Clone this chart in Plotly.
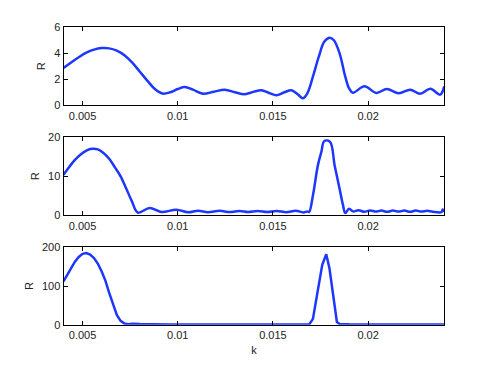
import plotly.graph_objects as go
from plotly.subplots import make_subplots

# ── Data ─────────────────────────────────────────────────────────────────────

K1 = [0.0040, 0.0044, 0.0048, 0.0052, 0.0056, 0.0060, 0.0064, 0.0068, 0.0072,
      0.0076, 0.0080, 0.0084, 0.0088, 0.0092, 0.0096, 0.0100, 0.01037, 0.0108,
      0.01133, 0.0119, 0.01247, 0.0130, 0.01352, 0.0140, 0.01439, 0.0148,
      0.01518, 0.0156, 0.01597, 0.0163, 0.01657, 0.0168, 0.0171, 0.0174, 0.0177,
      0.01798, 0.0182, 0.0185, 0.0188, 0.0190, 0.0192, 0.01981, 0.02043, 0.02098,
      0.02161, 0.02221, 0.02273, 0.02327, 0.02378, 0.0240]
R1 = [2.87, 3.3, 3.7, 4.05, 4.28, 4.4, 4.38, 4.2, 3.85,
      3.3, 2.6, 1.9, 1.25, 0.9, 1.0, 1.25, 1.41, 1.2,
      0.89, 1.05, 1.2, 1.0, 0.85, 1.05, 1.15, 0.95,
      0.77, 1.0, 1.15, 0.85, 0.54, 0.9, 2.2, 3.7, 4.9,
      5.2, 5.0, 4.0, 2.2, 1.3, 0.97, 1.46, 0.95, 1.25,
      0.92, 1.2, 0.89, 1.28, 0.82, 1.46]

K2 = [0.0040, 0.0043, 0.0046, 0.0049, 0.0052, 0.0055, 0.0058, 0.0061, 0.0064,
      0.0067, 0.0070, 0.0073, 0.0076, 0.0079, 0.00853, 0.00914, 0.00993,
      0.01054, 0.01107, 0.01159, 0.0122, 0.01273, 0.01325, 0.01369, 0.0142,
      0.0147, 0.0152, 0.0157, 0.0162, 0.0166, 0.0168, 0.0169, 0.0171, 0.01736,
      0.01754, 0.0177, 0.0180, 0.01824, 0.0185, 0.01868, 0.0188, 0.0190, 0.0192,
      0.0195, 0.0198, 0.0201, 0.0204, 0.0207, 0.0210, 0.0213, 0.0216, 0.0219,
      0.0222, 0.0225, 0.0228, 0.0231, 0.0234, 0.02385, 0.02392, 0.0240]
R2 = [10.4, 12.4, 14.2, 15.6, 16.6, 17.05, 16.9, 16.0, 14.5,
      12.3, 10.0, 6.8, 3.5, 0.7, 1.87, 0.85, 1.43,
      0.77, 1.18, 0.8, 1.15, 0.82, 1.1, 0.85, 1.1,
      0.85, 1.1, 0.8, 1.15, 0.75, 1.0, 0.85, 5.1, 12.8,
      16.2, 19.05, 18.8, 12.8, 6.8, 2.6, 0.6, 1.7, 1.0,
      1.3, 0.9, 1.25, 0.95, 1.2, 0.9, 1.2, 0.95, 1.2,
      0.9, 1.2, 0.95, 1.15, 0.9, 0.8, 1.5, 0.9]

K3 = [0.0040, 0.0042, 0.0044, 0.0046, 0.0048, 0.0050, 0.0052, 0.0054, 0.0056,
      0.0058, 0.0060, 0.0062, 0.0064, 0.0066, 0.0068, 0.0070, 0.0072, 0.0074,
      0.0076, 0.0080, 0.0085, 0.0095, 0.0110, 0.0130, 0.0150, 0.0165, 0.0169,
      0.0171, 0.01759, 0.0178, 0.01797, 0.01836, 0.0185, 0.0190, 0.0200, 0.0220,
      0.0240]
R3 = [112, 130, 148, 163, 175, 183, 185, 181, 172,
      158, 138, 114, 82, 52, 25, 10, 3, 1.5,
      2.5, 1.5, 1.0, 0.8, 0.6, 0.5, 0.5, 0.6, 0.3,
      15, 155, 182, 145, 7, 2, 1.2, 0.8, 0.7,
      0.8]

X_TICKS = [0.005, 0.01, 0.015, 0.02]
X_TICKTEXT = ["0.005", "0.01", "0.015", "0.02"]
Y_TICKS = [[0, 2, 4, 6], [0, 10, 20], [0, 100, 200]]
Y_RANGES = [[0, 6], [0, 20], [0, 200]]

# ── Layout constants ──────────────────────────────────────────────────────────
# page body has an 8px margin, so the figure is 16px smaller than the window
# and screen pixel positions are shifted by OFF

WIN_W, WIN_H, OFF = 491, 366, 8
W, H = WIN_W - 2 * OFF, WIN_H - 2 * OFF


def px_x(x):
    return (x - OFF) / W


def px_y(y):
    return 1 - (y - OFF) / H


X_DOMAIN = [px_x(63.5), px_x(444.3)]
Y_DOMAINS = [
    [px_y(105.3), px_y(27.3)],
    [px_y(215.3), px_y(137.3)],
    [px_y(324.7), px_y(247.3)],
]
LINE_COLOR = "rgb(30,55,255)"
FONT = dict(family="Liberation Sans, Arial, sans-serif", size=11, color="#222")

fig = make_subplots(rows=3, cols=1)

series = [(K1, R1, "spline"), (K2, R2, "spline"), (K3, R3, "linear")]
for i, (k, r, shape) in enumerate(series, start=1):
    fig.add_trace(go.Scatter(
        x=k, y=r, mode="lines", showlegend=False,
        line=dict(color=LINE_COLOR, width=2.5, shape=shape, smoothing=1.0),
    ), row=i, col=1)

axis_common = dict(
    showline=True, linecolor="black", linewidth=1, mirror="ticks",
    ticks="inside", ticklen=4, tickcolor="black", showgrid=False,
    zeroline=False, tickfont=FONT, automargin=False,
)

for i in range(3):
    fig.update_xaxes(
        **axis_common, range=[0.004, 0.024], domain=X_DOMAIN,
        tickvals=X_TICKS, ticktext=X_TICKTEXT,
        row=i + 1, col=1,
    )
    fig.update_yaxes(
        **axis_common, range=Y_RANGES[i], domain=Y_DOMAINS[i],
        tickvals=Y_TICKS[i],
        title=dict(text="R", font=FONT, standoff=6),
        row=i + 1, col=1,
    )

fig.update_xaxes(title=dict(text="k", font=FONT, standoff=6), row=3, col=1)

fig.update_layout(
    width=W, height=H,
    margin=dict(l=0, r=0, t=0, b=0),
    paper_bgcolor="white", plot_bgcolor="white",
    font=FONT,
)

fig.write_html("out.html")
